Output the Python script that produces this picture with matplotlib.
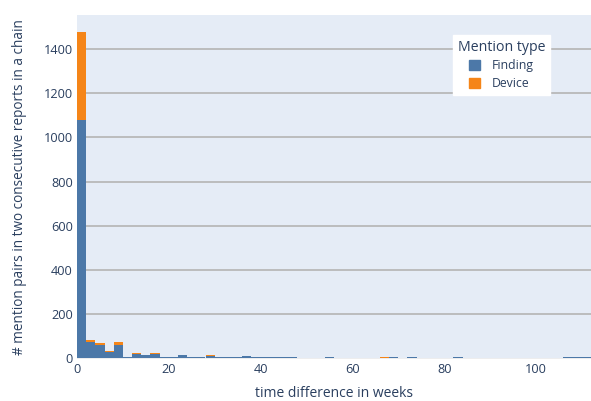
import numpy as np
import matplotlib.pyplot as plt
from matplotlib.patches import Patch

plt.rcParams['font.family'] = ['Open Sans', 'DejaVu Sans']

# histogram counts, bins of 2 weeks starting at 0
bin_width = 2
finding = [1081, 72, 60, 26, 59, 3, 20, 12, 20, 5,
           3, 15, 5, 3, 10, 5, 7, 5, 10, 5,
           3, 5, 5, 7, 0, 0, 0, 5, 0, 0,
           0, 0, 0, 0, 5, 0, 5, 0, 0, 0,
           0, 5, 0, 0, 0, 0, 0, 0, 0, 0,
           0, 0, 0, 5, 5, 5]
device = [395, 9, 10, 7, 15, 4, 4, 0, 4, 0,
          4, 0, 0, 4, 5, 0, 0, 0, 0, 0,
          4, 0, 0, 0, 0, 0, 0, 0, 0, 0,
          0, 0, 0, 5, 0, 0, 0, 0, 0, 0,
          0, 0, 0, 0, 0, 0, 0, 0, 0, 0,
          0, 0, 0, 0, 0, 0]
y_ticks = [0, 200, 400, 600, 800, 1000, 1200, 1400]
x_ticks = [0, 20, 40, 60, 80, 100]

blue = "#4C78A8"
orange = "#F58518"
text_col = "#2a3f5f"

left_edges = np.arange(len(finding)) * bin_width
finding = np.array(finding)
device = np.array(device)

W, H = 591, 401
fig = plt.figure(figsize=(W / 100, H / 100), dpi=100)
ax = fig.add_axes([77 / W, (H - 359) / H, (591 - 77) / W, (359 - 15) / H])
ax.set_facecolor("#E5ECF6")

ax.bar(left_edges, finding, width=bin_width, align="edge", color=blue, linewidth=0, zorder=3)
ax.bar(left_edges, device, width=bin_width, align="edge", bottom=finding, color=orange, linewidth=0, zorder=3)

ax.set_xlim(0, len(finding) * bin_width)
ax.set_ylim(-4, 1555)
ax.set_yticks(y_ticks)
ax.set_xticks(x_ticks)
for y in y_ticks[1:]:
    ax.axhline(y, color="#b8b8b8", linewidth=1.3, zorder=1)
ax.axhline(-2, color="#eeeeee", linewidth=2, zorder=2)

for s in ax.spines.values():
    s.set_visible(False)
ax.tick_params(length=0, labelsize=9.2, colors=text_col, pad=3)

ax.set_xlabel("time difference in weeks", fontsize=10, color=text_col, labelpad=7)
ax.set_ylabel("# mention pairs in two consecutive reports in a chain", fontsize=9.8,
              color=text_col, labelpad=12)

handles = [Patch(color=blue, label="Finding"), Patch(color=orange, label="Device")]
leg = ax.legend(handles=handles, title="Mention type", loc="upper right",
                bbox_to_anchor=(0.932, 0.96), frameon=True, fancybox=False,
                fontsize=8.8, title_fontsize=10.2, handlelength=0.9, handleheight=0.9,
                handletextpad=1.0, borderpad=0.4, labelspacing=0.45)
leg.get_frame().set_facecolor("white")
leg.get_frame().set_edgecolor("white")
leg.get_frame().set_alpha(1)
leg.get_title().set_color(text_col)
leg._legend_box.sep = 3
for t in leg.get_texts():
    t.set_color(text_col)
leg.set_zorder(10)

fig.savefig("out.png", dpi=100)
